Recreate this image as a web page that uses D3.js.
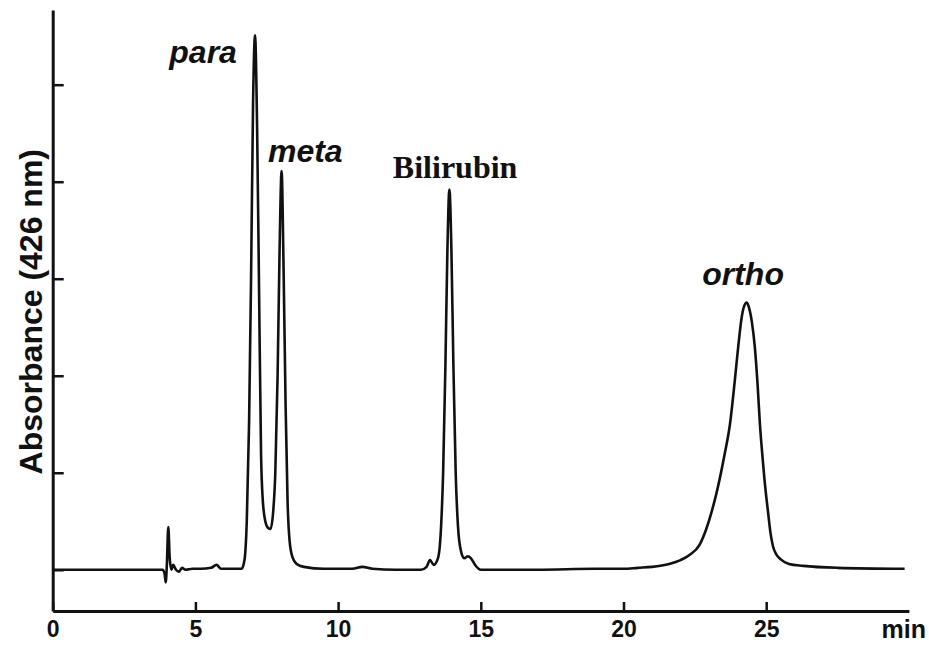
<!DOCTYPE html>
<html>
<head>
<meta charset="utf-8">
<script src="https://cdn.jsdelivr.net/npm/d3@7"></script>
<style>
  html, body { margin: 0; padding: 0; background: #fff; }
  svg { display: block; }
</style>
</head>
<body>
<svg id="chart" width="929" height="646"></svg>
<script>
// ---- data ----
const times = [
  0, 1.0, 2.0, 3.0, 3.85, 3.92, 3.96, 4.0, 4.05, 4.10, 4.16, 4.22, 4.32, 4.42, 4.53, 4.65,
  4.9, 5.2, 5.55, 5.74, 5.9, 6.3, 6.62, 6.72, 6.80, 6.88, 6.95, 7.02, 7.09, 7.16, 7.23,
  7.30, 7.36, 7.45, 7.55, 7.63, 7.72, 7.80, 7.88, 7.95, 8.02, 8.09, 8.16, 8.23, 8.30,
  8.40, 8.55, 8.8, 9.5, 10.5, 10.85, 11.2, 12.0, 12.9, 13.1, 13.22, 13.35, 13.50, 13.60,
  13.68, 13.76, 13.83, 13.90, 13.97, 14.04, 14.12, 14.20, 14.30, 14.42, 14.55, 14.65,
  14.80, 15.0, 15.3, 17.0, 19.0, 20.0, 20.5, 21.0, 21.6, 22.0, 22.3, 22.67, 22.9, 23.09,
  23.25, 23.38, 23.55, 23.73, 23.9, 24.02, 24.14, 24.23, 24.32, 24.40, 24.50, 24.60,
  24.70, 24.78, 24.86, 24.94, 25.07, 25.15, 25.24, 25.35, 25.5, 25.8, 26.3, 27.5, 29.85
];
const absorbance = [
  0.0, 0.0, 0.0, 0.0, 0.0, -0.04, -0.13, 0.05, 0.44, 0.12, 0.0, 0.05, 0.0, -0.02, 0.02, 0.0,
  0.01, 0.01, 0.02, 0.05, 0.01, 0.01, 0.01, 0.1, 0.5, 1.5, 3.0, 4.8, 5.51, 4.6, 2.9,
  1.2, 0.72, 0.5, 0.43, 0.42, 0.58, 1.0, 2.0, 3.3, 4.11, 3.1, 1.7, 0.7, 0.3,
  0.13, 0.06, 0.03, 0.01, 0.01, 0.03, 0.01, 0.0, 0.0, 0.03, 0.1, 0.05, 0.12, 0.4,
  1.0, 2.1, 3.3, 3.92, 3.3, 2.1, 1.0, 0.45, 0.2, 0.12, 0.14, 0.12,
  0.05, 0.0, 0.0, 0.0, 0.01, 0.01, 0.02, 0.03, 0.06, 0.1, 0.15, 0.26, 0.42, 0.6,
  0.78, 0.95, 1.2, 1.5, 1.95, 2.3, 2.6, 2.72, 2.755, 2.7, 2.55, 2.3,
  1.9, 1.5, 1.2, 0.93, 0.58, 0.38, 0.24, 0.16, 0.11, 0.06, 0.04, 0.02, 0.01
];
const xTickValues = [0, 5, 10, 15, 20, 25];
const yTickValues = [0, 1, 2, 3, 4, 5];
const xUnitLabel = "min";
const yAxisTitle = "Absorbance (426 nm)";
const peakNames = ["para", "meta", "Bilirubin", "ortho"];
const peakTimes = [7.09, 8.02, 13.90, 24.32];

// ---- layout ----
const svg = d3.select("#chart");
const x = d3.scaleLinear().domain([0, 30]).range([52.7, 908.9]);
const y = d3.scaleLinear().domain([-0.425, 5.77]).range([611, 10]);

const points = times.map((t, i) => [t, absorbance[i]]);

// trace
svg.append("path")
  .datum(points)
  .attr("fill", "none")
  .attr("stroke", "#111")
  .attr("stroke-width", 2.6)
  .attr("stroke-linejoin", "round")
  .attr("d", d3.line().x(d => x(d[0])).y(d => y(d[1])).curve(d3.curveMonotoneX));

// x axis
const xAxis = svg.append("g")
  .attr("transform", `translate(0,${y.range()[0]})`)
  .call(d3.axisBottom(x).tickValues(xTickValues).tickSizeInner(-9).tickSizeOuter(0).tickPadding(10).tickFormat(d3.format("d")));
xAxis.select(".domain").attr("stroke", "#111").attr("stroke-width", 3);
xAxis.selectAll(".tick line").attr("stroke", "#111").attr("stroke-width", 2.5);
xAxis.selectAll(".tick text")
  .attr("fill", "#111")
  .style("font-family", "Arial, 'Liberation Sans', sans-serif")
  .style("font-weight", "bold")
  .style("font-size", "23px");

svg.append("text")
  .attr("x", 926).attr("y", 638)
  .attr("text-anchor", "end")
  .attr("fill", "#111")
  .style("font-family", "Arial, 'Liberation Sans', sans-serif")
  .style("font-weight", "bold")
  .style("font-size", "25px")
  .text(xUnitLabel);

// y axis
const yAxis = svg.append("g")
  .attr("transform", `translate(${x.range()[0]},0)`)
  .call(d3.axisRight(y).tickValues(yTickValues).tickSizeInner(11).tickSizeOuter(0).tickFormat(""));
yAxis.select(".domain").attr("stroke", "#111").attr("stroke-width", 3);
yAxis.selectAll(".tick line").attr("stroke", "#111").attr("stroke-width", 2.5);

svg.append("text")
  .attr("transform", `translate(42,${y(2.66)}) rotate(-90)`)
  .attr("text-anchor", "middle")
  .attr("fill", "#111")
  .style("font-family", "Arial, 'Liberation Sans', sans-serif")
  .style("font-weight", "bold")
  .style("font-size", "32px")
  .text(yAxisTitle);

// peak labels
const labelFonts = [
  {family: "Arial, 'Liberation Sans', sans-serif", style: "italic", size: 32},
  {family: "Arial, 'Liberation Sans', sans-serif", style: "italic", size: 32},
  {family: "'Times New Roman', 'Liberation Serif', serif", style: "normal", size: 32},
  {family: "Arial, 'Liberation Sans', sans-serif", style: "italic", size: 32}
];
const labelOffsets = [[-1.82, -0.29], [0.83, 0.09], [0.2, 0.12], [-0.13, 0.185]];
peakNames.forEach((name, i) => {
  const idx = times.indexOf(peakTimes[i]);
  const top = absorbance[idx];
  svg.append("text")
    .attr("x", x(peakTimes[i] + labelOffsets[i][0]))
    .attr("y", y(top + labelOffsets[i][1]))
    .attr("text-anchor", "middle")
    .attr("fill", "#111")
    .style("font-family", labelFonts[i].family)
    .style("font-style", labelFonts[i].style)
    .style("font-weight", "bold")
    .style("font-size", labelFonts[i].size + "px")
    .text(name);
});
</script>
</body>
</html>
